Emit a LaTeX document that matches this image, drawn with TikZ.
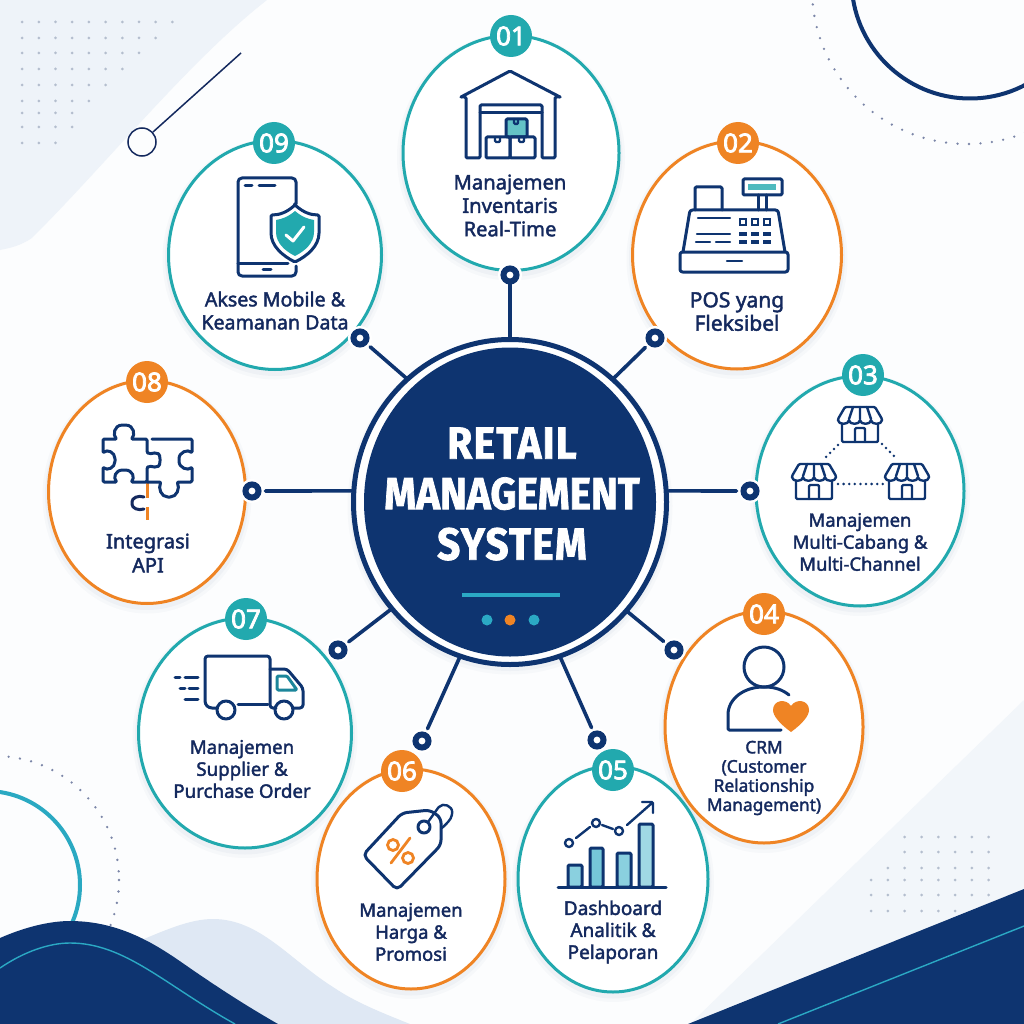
\documentclass[tikz,border=0pt]{standalone}
\usepackage{fontspec}
\setmainfont{Noto Sans}
\newfontfamily\capfont[FakeBold=2]{Noto Sans}
\newfontfamily\numfont[FakeBold=3]{Noto Sans}
\newfontfamily\titlefont[FakeStretch=.9, FakeBold=1.6]{Fira Sans}
\usepackage{tikz}
\usepackage{xcolor}
\usetikzlibrary{positioning, shapes.geometric}

\definecolor{navy}{HTML}{0E3470}
\definecolor{ink}{HTML}{14295E}
\definecolor{tealc}{HTML}{22A9AE}
\definecolor{orangec}{HTML}{EF8424}
\definecolor{cyanc}{HTML}{2BA9C4}
\definecolor{paper}{HTML}{FCFDFE}
\definecolor{mist}{HTML}{EEF3F9}
\definecolor{hump}{HTML}{DFE8F4}
\definecolor{speck}{HTML}{B4BECE}
\definecolor{speckdark}{HTML}{7B86A8}

\tikzset{
    halo/.style={preaction={draw=navy, draw opacity=.025, line width=12pt, transform canvas={yshift=-4pt}},
                 preaction={draw=navy, draw opacity=.03, line width=7pt, transform canvas={yshift=-3pt}}},
    bubble/.style={ellipse, fill=white, line width=3pt, inner sep=0pt, halo},
    badge/.style={circle, text=white, inner sep=0pt, minimum size=42pt, font=\numfont\fontsize{26}{26}\selectfont},
    caption/.style={align=center, inner sep=0pt, text=ink, font=\capfont\fontsize{20.2}{23.4}\selectfont},
    pin/.style={circle, fill=white, draw=navy, line width=6pt, inner sep=0pt, minimum size=13pt,
                preaction={draw=white, line width=11pt}},
    link/.style={draw=navy, line width=3.6pt, line cap=round, shorten >=4pt},
    icon/.style={draw=navy, line width=3pt, line join=round, line cap=round, rounded corners=1.2pt},
    thinicon/.style={icon, line width=2.4pt},
    specks/.style={fill=speck},
    dotarc/.style={draw=speckdark, line width=2.6pt, line cap=round, dash pattern=on 0pt off 11.5pt},
    shopfront/.pic={
        \draw [thinicon, fill=white] (-18,14) -- (-18,35) -- (18,35) -- (18,14);
        \draw [thinicon] (-5,35) -- (-5,21) -- (5,21) -- (5,35);
        \draw [thinicon, fill=white] (-15,0) -- (15,0) -- (22,12) .. controls (22,18) and (11,18) .. (11,12)
            .. controls (11,18) and (0,18) .. (0,12) .. controls (0,18) and (-11,18) .. (-11,12)
            .. controls (-11,18) and (-22,18) .. (-22,12) -- cycle;
        \draw [thinicon] (-7,0) -- (-11,12) (0,0) -- (0,12) (7,0) -- (11,12);
    },
}

\begin{document}
\begin{tikzpicture}[x=1pt, y=-1pt]
    \useasboundingbox (0,0) rectangle (1024,1024);
    \clip (0,0) rectangle (1024,1024);
    \fill [paper] (0,0) rectangle (1024,1024);

    % backdrop
    \fill [mist] (0,0) -- (267,0) .. controls (190,60) and (110,160) .. (32,238) .. controls (20,246) and (10,248) .. (0,250) -- cycle;
    \fill [mist!70!paper] (1024,700) -- (690,1024) -- (1024,1024) -- cycle;
    \fill [navy] (688,1024) -- (1024,889) -- (1024,1024) -- cycle;
    \draw [cyanc, line width=1.4pt] (778,1024) -- (1024,926);
    \foreach \y/\n in {22/10, 38/9, 53/8, 69/7, 85/6, 101/5, 113/4, 127/4, 143/3}
        \foreach \i in {1,...,\n}
            \fill [specks] ({5.4+16.7*\i},\y) circle (1.5);
    \foreach \y/\s/\n in {837/3/8, 852/3/8, 868/2/8, 880/1/8, 895/1/8, 911/1/6}
        \foreach \i in {\s,...,\n}
            \fill [specks] ({854.3+16.8*\i},\y) circle (1.5);
    \draw [ink, line width=1.5pt] (142,142) circle (14);
    \draw [ink, line width=1.5pt] (153,132) -- (241,53);
    \draw [navy, line width=4pt] (970,-20) circle (118.5);
    \draw [dotarc] (967,-11) circle (155);
    \draw [dotarc] (-5,880) circle (124);
    \draw [cyanc!90!tealc, line width=4pt] (-14,885) circle (94);
    \fill [hump] (130,1024) -- (130,945) .. controls (165,930) and (190,919) .. (213,919) .. controls (260,919) and (290,960) .. (333,987) .. controls (355,1002) and (380,1012) .. (410,1024) -- cycle;
    \fill [navy] (0,938) .. controls (25,927) and (50,921) .. (70,921) .. controls (130,921) and (170,955) .. (200,975) .. controls (225,992) and (250,1008) .. (278,1024) -- (0,1024) -- cycle;
    \draw [cyanc, line width=1.4pt] (0,968) .. controls (25,951) and (50,943) .. (70,943) .. controls (125,943) and (165,985) .. (235,1024);

    % bubbles
    \node [bubble, draw=tealc, minimum width=216pt, minimum height=235pt] (bubinv) at (511,153) {};
    \node [bubble, draw=orangec, minimum width=209pt, minimum height=228pt] (bubpos) at (737,255) {};
    \node [bubble, draw=tealc, minimum width=208pt, minimum height=230pt] (bubbranch) at (860,491) {};
    \node [bubble, draw=orangec, minimum width=198pt, minimum height=232pt] (bubcrm) at (764,727) {};
    \node [bubble, draw=tealc, minimum width=190pt, minimum height=226pt] (bubdash) at (613,879) {};
    \node [bubble, draw=orangec, minimum width=188pt, minimum height=220pt] (bubprice) at (411,879) {};
    \node [bubble, draw=tealc, minimum width=213pt, minimum height=230pt] (bubsupply) at (245,733) {};
    \node [bubble, draw=orangec, minimum width=197pt, minimum height=223pt] (bubapi) at (147,492) {};
    \node [bubble, draw=tealc, minimum width=213pt, minimum height=229pt] (bubmobile) at (275,255) {};

    % hub
    \node [ellipse, fill=white, draw=navy, line width=5pt, inner sep=0pt, minimum width=313pt, minimum height=325pt, halo] (hubrim) at (510,502) {};
    \node [ellipse, fill=navy, inner sep=0pt, minimum width=292pt, minimum height=309pt] (hub) at (510,502) {};
    \node [align=center, inner sep=0pt, text=white, font=\titlefont\bfseries\fontsize{45}{50.5}\selectfont] (title) at (512,494) {{\addfontfeature{LetterSpace=3}RETAIL}\\MANAGEMENT\\{\addfontfeature{LetterSpace=3}SYSTEM}};
    \draw [cyanc, line width=4pt] (462,595) -- (560,595);
    \fill [cyanc] (487,620) circle (5.5);
    \fill [orangec] (510,620) circle (5.5);
    \fill [cyanc] (534,620) circle (5.5);

    % pins and links
    \node [pin] (pininv) at (510,275) {};
    \node [pin] (pinpos) at (655,338) {};
    \node [pin] (pinbranch) at (750,491) {};
    \node [pin] (pincrm) at (674,650) {};
    \node [pin] (pindash) at (597,740) {};
    \node [pin] (pinprice) at (422,741) {};
    \node [pin] (pinsupply) at (338,650) {};
    \node [pin] (pinapi) at (252,491) {};
    \node [pin] (pinmobile) at (360,338) {};
    \draw [link, shorten >=0pt] (hubrim.90) -- (pininv);
    \draw [link] (hubrim.50) -- (pinpos);
    \draw [link] (hubrim.4) -- (pinbranch);
    \draw [link] (hubrim.-43) -- (pincrm);
    \draw [link] (hubrim.-72) -- (pindash);
    \draw [link] (hubrim.-108) -- (pinprice);
    \draw [link] (hubrim.-138) -- (pinsupply);
    \draw [link] (hubrim.176) -- (pinapi);
    \draw [link] (hubrim.130) -- (pinmobile);

    % badges
    \node [badge, fill=tealc] (numa) at (511,36) {01};
    \node [badge, fill=orangec] (numb) at (738,143) {02};
    \node [badge, fill=tealc] (numc) at (863,375) {03};
    \node [badge, fill=orangec] (numd) at (764,614) {04};
    \node [badge, fill=tealc] (nume) at (613,770) {05};
    \node [badge, fill=orangec] (numf) at (402,771) {06};
    \node [badge, fill=tealc] (numg) at (246,619) {07};
    \node [badge, fill=orangec] (numh) at (147,382) {08};
    \node [badge, fill=tealc] (numi) at (274,143) {09};

    % captions
    \node [caption] (capinv) at (510,205.5) {Manajemen\\Inventaris\\Real-Time};
    \node [caption, font=\capfont\fontsize{21}{23.4}\selectfont] (cappos) at (737,311.5) {POS yang\\Fleksibel};
    \node [caption, font=\capfont\fontsize{18.4}{22}\selectfont] (capbranch) at (860,542) {Manajemen\\Multi-Cabang \&\\Multi-Channel};
    \node [caption, font=\capfont\fontsize{17.3}{19.2}\selectfont] (capcrm) at (764,778) {CRM\\(Customer\\Relationship\\Management)};
    \node [caption, font=\capfont\fontsize{19}{22}\selectfont] (capdash) at (613,932) {Dashboard\\Analitik \&\\Pelaporan};
    \node [caption, font=\capfont\fontsize{18.5}{22}\selectfont] (capprice) at (411,932) {Manajemen\\Harga \&\\Promosi};
    \node [caption, font=\capfont\fontsize{18.7}{22}\selectfont] (capsupply) at (242,769) {Manajemen\\Supplier \&\\Purchase Order};
    \node [caption, font=\capfont\fontsize{20}{24}\selectfont] (capapi) at (148,553) {Integrasi\\API};
    \node [caption, font=\capfont\fontsize{19.6}{23}\selectfont] (capmobile) at (275,310.5) {Akses Mobile \&\\Keamanan Data};

    % warehouse
    \draw [icon] (461,97) -- (510,71) -- (560,97);
    \draw [icon] (461,97) -- (466,97) -- (466,158) -- (480,158) -- (480,105) -- (542,105) -- (542,158) -- (555,158) -- (555,97) -- (560,97);
    \draw [icon] (480,113) -- (542,113);
    \draw [icon, fill=tealc!70!white] (506,119) rectangle (527,137);
    \draw [icon] (486,137) rectangle (510,158);
    \draw [icon] (510,137) rectangle (535,158);
    \draw [thinicon] (514,119) -- (514,124) -- (518,124) -- (518,119);
    \draw [thinicon] (495,137) -- (495,142) -- (500,142) -- (500,137);
    \draw [thinicon] (519,137) -- (519,142) -- (524,142) -- (524,137);

    % cash register
    \draw [icon, rounded corners=2.5pt] (680,252) rectangle (788,272);
    \draw [icon, rounded corners=2.5pt] (683,252) -- (690,210) -- (778,210) -- (785,252);
    \draw [icon] (695,210) -- (695,187) -- (722,187) -- (722,210);
    \draw [icon] (743,179) rectangle (782,195);
    \fill [tealc!80!white] (748,184) rectangle (776,190);
    \draw [icon] (758,195) -- (758,210) (766,195) -- (766,210);
    \draw [thinicon] (698,218) -- (730,218) (697,234) -- (730,234) (696,242) -- (710,242) (716,242) -- (730,242) (727,261) -- (742,261);
    \foreach \x in {743,755,767} {
        \draw [navy, line width=1.8pt] (\x-3,219) rectangle (\x+3,225);
        \fill [navy] (\x-4,232) rectangle (\x+4,236);
        \fill [navy] (\x-4,240) rectangle (\x+4,244);
    }

    % branches
    \pic (shoptop) at (860,407) {shopfront};
    \pic (shopleft) at (814,464) {shopfront};
    \pic (shopright) at (907,464) {shopfront};
    \draw [navy, line width=2.8pt, line cap=round, dash pattern=on 0pt off 5.6pt] (838,445) -- (823,460) (882,444) -- (897,459) (838,484) -- (883,484);

    % person
    \draw [icon] (764,667) circle (20);
    \draw [icon] (781,730) -- (728,730) -- (728,716) .. controls (728,698) and (745,687) .. (764,687) .. controls (775,687) and (783,690) .. (789,695);
    \fill [orangec] (791,732) .. controls (780,724) and (773,716) .. (773,710) .. controls (773,700) and (786,698) .. (791,706) .. controls (796,698) and (809,700) .. (809,710) .. controls (809,716) and (802,724) .. (791,732) -- cycle;

    % chart
    \draw [icon, fill=cyanc!55!white] (568,865) rectangle (582,887);
    \draw [icon, fill=cyanc!65!white] (590,848) rectangle (603,887);
    \draw [icon, fill=cyanc!55!white] (617,853) rectangle (631,887);
    \draw [icon, fill=cyanc!45!white] (639,824) rectangle (653,887);
    \draw [icon] (558,887) -- (666,887);
    \draw [thinicon] (569,843) circle (4);
    \draw [thinicon] (596,823) circle (4);
    \draw [thinicon] (619,831) circle (4);
    \draw [thinicon] (576,838) -- (590,827) (602,825) -- (613,829) (627,825) -- (652,803) (642,802) -- (653,802) -- (653,813);

    % tag
    \draw [icon, rounded corners=5pt] (363,855) -- (402,813) -- (430,810) -- (441,818) -- (441,845) -- (397,890) -- cycle;
    \draw [icon] (424,827) circle (6);
    \draw [thinicon] (428,822) -- (438,808) .. controls (443,802) and (453,806) .. (452,814) .. controls (451,820) and (446,824) .. (442,828);
    \draw [orangec, line width=2.8pt, line cap=round] (391,863) -- (410,838);
    \draw [orangec, line width=2.8pt] (393,845) circle (5.5);
    \draw [orangec, line width=2.8pt] (408,858) circle (5.5);

    % truck
    \draw [icon, rounded corners=3pt] (217,708) -- (209,708) -- (205,704) -- (205,656) -- (270,656) -- (270,708) -- (276,708);
    \draw [icon] (238,704) -- (268,704);
    \draw [icon, rounded corners=3pt] (270,669) -- (287,669) -- (303,688) -- (303,708) -- (294,708);
    \draw [icon, draw=tealc!70!navy] (277,676) -- (287,676) -- (297,690) -- (277,690) -- cycle;
    \draw [icon] (226,710) circle (9);
    \draw [icon] (284,710) circle (9);
    \draw [icon] (175,677) -- (180,677) (185,677) -- (198,677) (180,688) -- (185,688) (189,688) -- (198,688) (185,699) -- (198,699);

    % puzzle
    \draw [orangec, line width=3pt] (147,482) -- (147,498) (147,507) -- (147,520);
    \draw [icon] (147,439) -- (131,439) .. controls (135,436) and (135,425) .. (124,425) .. controls (113,425) and (113,436) .. (117,439) -- (103,439) -- (103,453)
        .. controls (107,449) and (115,452) .. (115,460) .. controls (115,468) and (107,471) .. (103,467) -- (103,482) -- (117,482)
        .. controls (113,478) and (115,470) .. (124,470) .. controls (133,470) and (135,478) .. (131,482) -- (147,482) -- (147,468)
        .. controls (150,464) and (160,472) .. (160,460) .. controls (160,448) and (150,456) .. (147,452) -- cycle;
    \draw [icon] (152,439) -- (192,439) -- (192,453) .. controls (188,449) and (179,452) .. (179,460) .. controls (179,468) and (188,471) .. (192,467) -- (192,482) -- (177,482)
        .. controls (180,488) and (177,497) .. (169,497) .. controls (161,497) and (158,488) .. (161,482) -- (147,482);
    \draw [icon, draw=ink] (144,497) .. controls (138,495) and (132,498) .. (132,503) .. controls (132,508) and (138,511) .. (144,509);

    % phone
    \draw [icon, rounded corners=4pt] (296,204) -- (296,178) -- (238,178) -- (238,276) -- (296,276) -- (296,266);
    \draw [icon] (238,263) -- (288,263) (263,269) -- (271,269) (245,186) -- (252,186) (259,186) -- (275,186);
    \draw [icon, fill=white] (295,205) .. controls (287,212) and (280,215) .. (271,215) -- (271,232) .. controls (271,246) and (283,256) .. (295,262) .. controls (307,256) and (319,246) .. (319,232) -- (319,215) .. controls (310,215) and (303,212) .. (295,205) -- cycle;
    \fill [tealc] (295,211) .. controls (288,217) and (282,219) .. (276,220) -- (276,232) .. controls (276,243) and (285,251) .. (295,256) .. controls (305,251) and (314,243) .. (314,232) -- (314,220) .. controls (308,219) and (302,217) .. (295,211) -- cycle;
    \draw [white, line width=3pt, line cap=round, line join=round] (286,235) -- (293,241) -- (304,227);
\end{tikzpicture}
\end{document}
